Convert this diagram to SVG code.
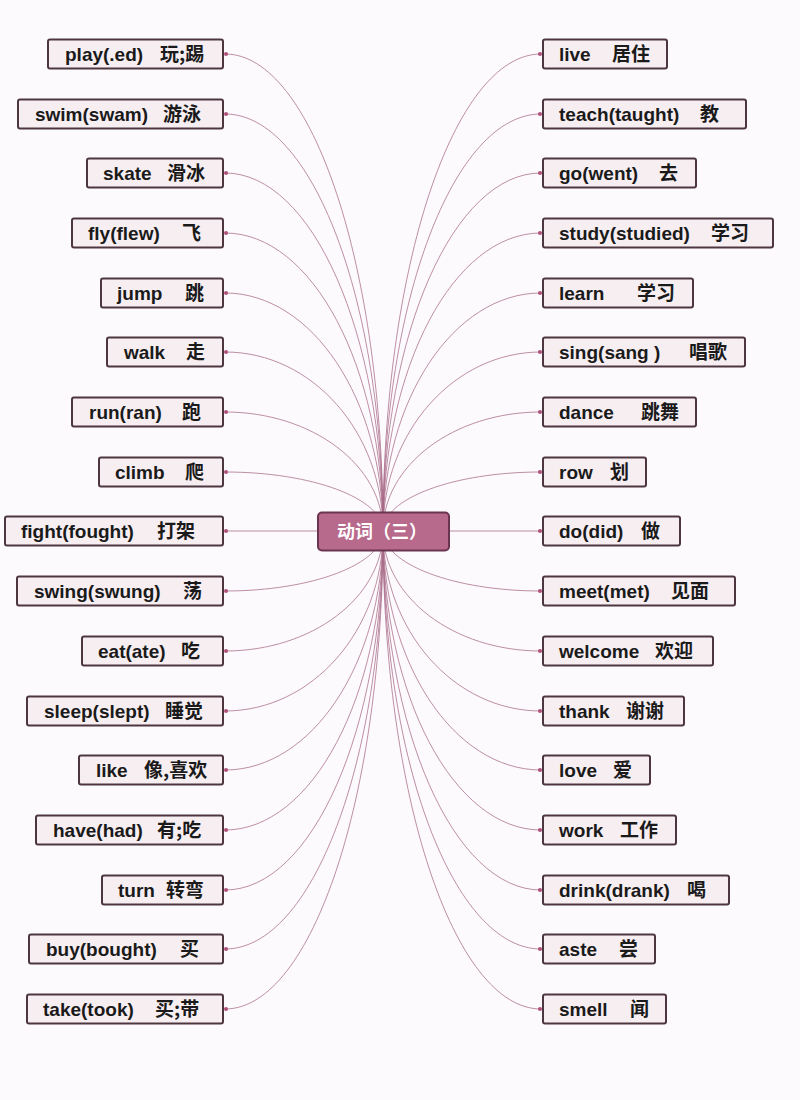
<svg xmlns="http://www.w3.org/2000/svg" width="800" height="1100" viewBox="0 0 800 1100">
<style>
.bg{fill:#fcfafc}
.box{fill:#f7eef2;stroke:#4d3640;stroke-width:2}
.t{font-family:"Liberation Sans","Noto Sans CJK SC",sans-serif;font-weight:bold;font-size:19px;fill:#1a1a1a}
.c{font-family:"Noto Sans CJK SC","Liberation Sans",sans-serif;font-weight:bold;font-size:19px;fill:#1a1a1a}
.ln{fill:none;stroke:#a86a88;stroke-opacity:0.75;stroke-width:1}
.dot{fill:#b0507a}
.root{fill:#b86a8c;stroke:#6b3450;stroke-width:2}
.rt{font-family:"Noto Sans CJK SC",sans-serif;font-weight:bold;font-size:18px;fill:#ffffff}
</style>
<rect class="bg" x="0" y="0" width="800" height="1100"/>
<g id="connectors">
<path class="ln" d="M383,531 C383,267.7 312.2,54 225,54"/>
<path class="ln" d="M383,531 C383,300.8 312.2,114 225,114"/>
<path class="ln" d="M383,531 C383,333.4 312.2,173 225,173"/>
<path class="ln" d="M383,531 C383,366.5 312.2,233 225,233"/>
<path class="ln" d="M383,531 C383,399.6 312.2,293 225,293"/>
<path class="ln" d="M383,531 C383,432.2 312.2,352 225,352"/>
<path class="ln" d="M383,531 C383,465.3 312.2,412 225,412"/>
<path class="ln" d="M383,531 C383,498.4 312.2,472 225,472"/>
<path class="ln" d="M383,531 L225,531"/>
<path class="ln" d="M383,531 C383,564.1 312.2,591 225,591"/>
<path class="ln" d="M383,531 C383,597.3 312.2,651 225,651"/>
<path class="ln" d="M383,531 C383,630.4 312.2,711 225,711"/>
<path class="ln" d="M383,531 C383,662.9 312.2,770 225,770"/>
<path class="ln" d="M383,531 C383,696.1 312.2,830 225,830"/>
<path class="ln" d="M383,531 C383,729.2 312.2,890 225,890"/>
<path class="ln" d="M383,531 C383,761.7 312.2,949 225,949"/>
<path class="ln" d="M383,531 C383,794.9 312.2,1009 225,1009"/>
<path class="ln" d="M383,531 C383,267.7 453.8,54 541,54"/>
<path class="ln" d="M383,531 C383,300.8 453.8,114 541,114"/>
<path class="ln" d="M383,531 C383,333.4 453.8,173 541,173"/>
<path class="ln" d="M383,531 C383,366.5 453.8,233 541,233"/>
<path class="ln" d="M383,531 C383,399.6 453.8,293 541,293"/>
<path class="ln" d="M383,531 C383,432.2 453.8,352 541,352"/>
<path class="ln" d="M383,531 C383,465.3 453.8,412 541,412"/>
<path class="ln" d="M383,531 C383,498.4 453.8,472 541,472"/>
<path class="ln" d="M383,531 L541,531"/>
<path class="ln" d="M383,531 C383,564.1 453.8,591 541,591"/>
<path class="ln" d="M383,531 C383,597.3 453.8,651 541,651"/>
<path class="ln" d="M383,531 C383,630.4 453.8,711 541,711"/>
<path class="ln" d="M383,531 C383,662.9 453.8,770 541,770"/>
<path class="ln" d="M383,531 C383,696.1 453.8,830 541,830"/>
<path class="ln" d="M383,531 C383,729.2 453.8,890 541,890"/>
<path class="ln" d="M383,531 C383,761.7 453.8,949 541,949"/>
<path class="ln" d="M383,531 C383,794.9 453.8,1009 541,1009"/>
<g class="dot">
<circle cx="226" cy="54" r="2"/><circle cx="226" cy="114" r="2"/><circle cx="226" cy="173" r="2"/><circle cx="226" cy="233" r="2"/><circle cx="226" cy="293" r="2"/><circle cx="226" cy="352" r="2"/><circle cx="226" cy="412" r="2"/><circle cx="226" cy="472" r="2"/><circle cx="226" cy="531" r="2"/><circle cx="226" cy="591" r="2"/><circle cx="226" cy="651" r="2"/><circle cx="226" cy="711" r="2"/><circle cx="226" cy="770" r="2"/><circle cx="226" cy="830" r="2"/><circle cx="226" cy="890" r="2"/><circle cx="226" cy="949" r="2"/><circle cx="226" cy="1009" r="2"/>
<circle cx="540" cy="54" r="2"/><circle cx="540" cy="114" r="2"/><circle cx="540" cy="173" r="2"/><circle cx="540" cy="233" r="2"/><circle cx="540" cy="293" r="2"/><circle cx="540" cy="352" r="2"/><circle cx="540" cy="412" r="2"/><circle cx="540" cy="472" r="2"/><circle cx="540" cy="531" r="2"/><circle cx="540" cy="591" r="2"/><circle cx="540" cy="651" r="2"/><circle cx="540" cy="711" r="2"/><circle cx="540" cy="770" r="2"/><circle cx="540" cy="830" r="2"/><circle cx="540" cy="890" r="2"/><circle cx="540" cy="949" r="2"/><circle cx="540" cy="1009" r="2"/>
</g>
</g>
<g id="root"><rect class="root" x="318" y="512.5" width="131" height="38" rx="4"/><text class="rt" x="382" y="538" text-anchor="middle">动词（三）</text></g>
<g id="l0"><rect class="box" x="48" y="39.5" width="175" height="29" rx="2"/><text class="t" y="61"><tspan x="65">play(.ed)</tspan><tspan class="c" x="160">玩;踢</tspan></text></g>
<g id="l1"><rect class="box" x="18" y="99.5" width="205" height="29" rx="2"/><text class="t" y="121"><tspan x="35">swim(swam)</tspan><tspan class="c" x="163">游泳</tspan></text></g>
<g id="l2"><rect class="box" x="87" y="158.5" width="136" height="29" rx="2"/><text class="t" y="180"><tspan x="103">skate</tspan><tspan class="c" x="167">滑冰</tspan></text></g>
<g id="l3"><rect class="box" x="72" y="218.5" width="151" height="29" rx="2"/><text class="t" y="240"><tspan x="88">fly(flew)</tspan><tspan class="c" x="182">飞</tspan></text></g>
<g id="l4"><rect class="box" x="101" y="278.5" width="122" height="29" rx="2"/><text class="t" y="300"><tspan x="117">jump</tspan><tspan class="c" x="185">跳</tspan></text></g>
<g id="l5"><rect class="box" x="107" y="337.5" width="116" height="29" rx="2"/><text class="t" y="359"><tspan x="124">walk</tspan><tspan class="c" x="186">走</tspan></text></g>
<g id="l6"><rect class="box" x="72" y="397.5" width="151" height="29" rx="2"/><text class="t" y="419"><tspan x="89">run(ran)</tspan><tspan class="c" x="182">跑</tspan></text></g>
<g id="l7"><rect class="box" x="99" y="457.5" width="124" height="29" rx="2"/><text class="t" y="479"><tspan x="115">climb</tspan><tspan class="c" x="185">爬</tspan></text></g>
<g id="l8"><rect class="box" x="5" y="516.5" width="218" height="29" rx="2"/><text class="t" y="538"><tspan x="21">fight(fought)</tspan><tspan class="c" x="157">打架</tspan></text></g>
<g id="l9"><rect class="box" x="17" y="576.5" width="206" height="29" rx="2"/><text class="t" y="598"><tspan x="34">swing(swung)</tspan><tspan class="c" x="183">荡</tspan></text></g>
<g id="l10"><rect class="box" x="82" y="636.5" width="141" height="29" rx="2"/><text class="t" y="658"><tspan x="98">eat(ate)</tspan><tspan class="c" x="181">吃</tspan></text></g>
<g id="l11"><rect class="box" x="27" y="696.5" width="196" height="29" rx="2"/><text class="t" y="718"><tspan x="44">sleep(slept)</tspan><tspan class="c" x="165">睡觉</tspan></text></g>
<g id="l12"><rect class="box" x="79" y="755.5" width="144" height="29" rx="2"/><text class="t" y="777"><tspan x="96">like</tspan><tspan class="c" x="144">像,喜欢</tspan></text></g>
<g id="l13"><rect class="box" x="36" y="815.5" width="187" height="29" rx="2"/><text class="t" y="837"><tspan x="53">have(had)</tspan><tspan class="c" x="157">有;吃</tspan></text></g>
<g id="l14"><rect class="box" x="102" y="875.5" width="121" height="29" rx="2"/><text class="t" y="897"><tspan x="118">turn</tspan><tspan class="c" x="166">转弯</tspan></text></g>
<g id="l15"><rect class="box" x="29" y="934.5" width="194" height="29" rx="2"/><text class="t" y="956"><tspan x="46">buy(bought)</tspan><tspan class="c" x="180">买</tspan></text></g>
<g id="l16"><rect class="box" x="27" y="994.5" width="196" height="29" rx="2"/><text class="t" y="1016"><tspan x="43">take(took)</tspan><tspan class="c" x="155">买;带</tspan></text></g>
<g id="r0"><rect class="box" x="543" y="39.5" width="124" height="29" rx="2"/><text class="t" y="61"><tspan x="559">live</tspan><tspan class="c" x="612">居住</tspan></text></g>
<g id="r1"><rect class="box" x="543" y="99.5" width="203" height="29" rx="2"/><text class="t" y="121"><tspan x="559">teach(taught)</tspan><tspan class="c" x="700">教</tspan></text></g>
<g id="r2"><rect class="box" x="543" y="158.5" width="153" height="29" rx="2"/><text class="t" y="180"><tspan x="559">go(went)</tspan><tspan class="c" x="659">去</tspan></text></g>
<g id="r3"><rect class="box" x="543" y="218.5" width="230" height="29" rx="2"/><text class="t" y="240"><tspan x="559">study(studied)</tspan><tspan class="c" x="711">学习</tspan></text></g>
<g id="r4"><rect class="box" x="543" y="278.5" width="150" height="29" rx="2"/><text class="t" y="300"><tspan x="559">learn</tspan><tspan class="c" x="637">学习</tspan></text></g>
<g id="r5"><rect class="box" x="543" y="337.5" width="202" height="29" rx="2"/><text class="t" y="359"><tspan x="559">sing(sang )</tspan><tspan class="c" x="689">唱歌</tspan></text></g>
<g id="r6"><rect class="box" x="543" y="397.5" width="153" height="29" rx="2"/><text class="t" y="419"><tspan x="559">dance</tspan><tspan class="c" x="641">跳舞</tspan></text></g>
<g id="r7"><rect class="box" x="543" y="457.5" width="103" height="29" rx="2"/><text class="t" y="479"><tspan x="559">row</tspan><tspan class="c" x="610">划</tspan></text></g>
<g id="r8"><rect class="box" x="543" y="516.5" width="137" height="29" rx="2"/><text class="t" y="538"><tspan x="559">do(did)</tspan><tspan class="c" x="641">做</tspan></text></g>
<g id="r9"><rect class="box" x="543" y="576.5" width="192" height="29" rx="2"/><text class="t" y="598"><tspan x="559">meet(met)</tspan><tspan class="c" x="671">见面</tspan></text></g>
<g id="r10"><rect class="box" x="543" y="636.5" width="170" height="29" rx="2"/><text class="t" y="658"><tspan x="559">welcome</tspan><tspan class="c" x="655">欢迎</tspan></text></g>
<g id="r11"><rect class="box" x="543" y="696.5" width="141" height="29" rx="2"/><text class="t" y="718"><tspan x="559">thank</tspan><tspan class="c" x="626">谢谢</tspan></text></g>
<g id="r12"><rect class="box" x="543" y="755.5" width="107" height="29" rx="2"/><text class="t" y="777"><tspan x="559">love</tspan><tspan class="c" x="613">爱</tspan></text></g>
<g id="r13"><rect class="box" x="543" y="815.5" width="133" height="29" rx="2"/><text class="t" y="837"><tspan x="559">work</tspan><tspan class="c" x="620">工作</tspan></text></g>
<g id="r14"><rect class="box" x="543" y="875.5" width="186" height="29" rx="2"/><text class="t" y="897"><tspan x="559">drink(drank)</tspan><tspan class="c" x="687">喝</tspan></text></g>
<g id="r15"><rect class="box" x="543" y="934.5" width="112" height="29" rx="2"/><text class="t" y="956"><tspan x="559">aste</tspan><tspan class="c" x="619">尝</tspan></text></g>
<g id="r16"><rect class="box" x="543" y="994.5" width="123" height="29" rx="2"/><text class="t" y="1016"><tspan x="559">smell</tspan><tspan class="c" x="630">闻</tspan></text></g>
</svg>
